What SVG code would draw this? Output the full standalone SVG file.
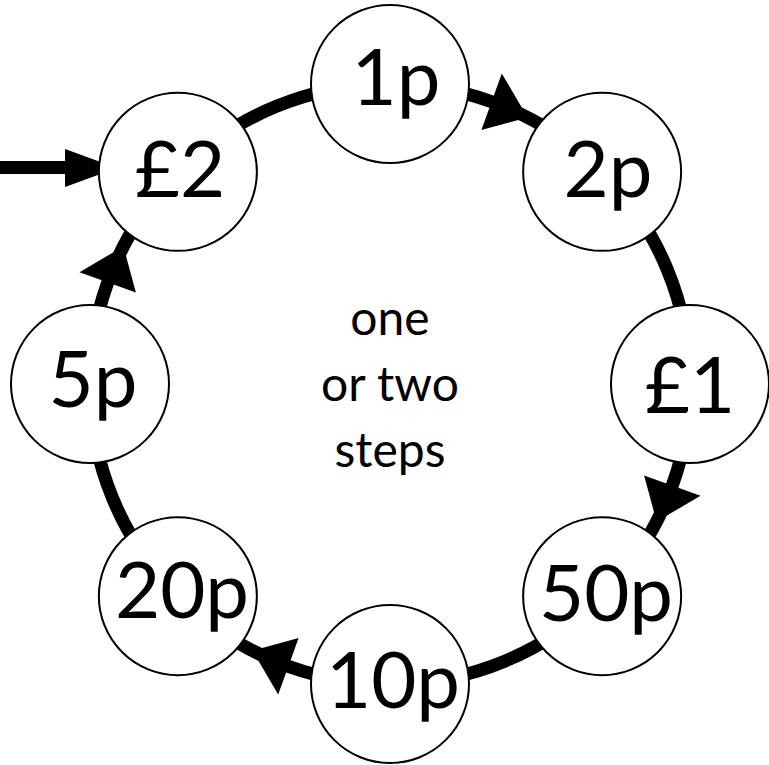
<svg xmlns="http://www.w3.org/2000/svg" xmlns:xlink="http://www.w3.org/1999/xlink" width="769" height="765" viewBox="0 0 769 765">
<style>
.ring{fill:none;stroke:#000;stroke-width:13}
.node circle{fill:#fff;stroke:#000;stroke-width:2}
.node text{font-family:Lato,"Liberation Sans",sans-serif;font-size:78px;fill:#000;text-anchor:middle}
.mid{font-family:Lato,"Liberation Sans",sans-serif;font-size:48px;fill:#000;text-anchor:middle}
</style>
<defs>
<polygon id="ah" points="656.6,521.6 700.5,495.8 644.1,475.4" fill="#000"/>
</defs>
<rect width="769" height="765" fill="#fff"/>
<g id="connectors">
<path class="ring" d="M390,84 A300,300 0 0 1 602.13,171.87"/>
<path class="ring" d="M602.13,171.87 A300,300 0 0 1 690,384"/>
<path class="ring" d="M690,384 A300,300 0 0 1 602.13,596.13"/>
<path class="ring" d="M602.13,596.13 A300,300 0 0 1 390,684"/>
<path class="ring" d="M390,684 A300,300 0 0 1 177.87,596.13"/>
<path class="ring" d="M177.87,596.13 A300,300 0 0 1 90,384"/>
<path class="ring" d="M90,384 A300,300 0 0 1 177.87,171.87"/>
<path class="ring" d="M177.87,171.87 A300,300 0 0 1 390,84"/>
<use xlink:href="#ah" href="#ah"/>
<use xlink:href="#ah" href="#ah" transform="rotate(-90 390 384)"/>
<use xlink:href="#ah" href="#ah" transform="rotate(90 390 384)"/>
<use xlink:href="#ah" href="#ah" transform="rotate(180 390 384)"/>
<line x1="0" y1="167.5" x2="70" y2="167.5" stroke="#000" stroke-width="13"/>
<polygon points="65,149 117,168 65,187" fill="#000"/>
</g>
<g id="n1p" class="node"><circle cx="390" cy="84" r="79"/><text x="396" y="105">1p</text></g>
<g id="n2p" class="node"><circle cx="602.13" cy="171.87" r="79"/><text x="608" y="197">2p</text></g>
<g id="nL1" class="node"><circle cx="690" cy="384" r="79"/><text x="690" y="413">£1</text></g>
<g id="n50p" class="node"><circle cx="602.13" cy="596.13" r="79"/><text x="606" y="621">50p</text></g>
<g id="n10p" class="node"><circle cx="390" cy="684" r="79"/><text x="393" y="708">10p</text></g>
<g id="n20p" class="node"><circle cx="177.87" cy="596.13" r="79"/><text x="182" y="618">20p</text></g>
<g id="n5p" class="node"><circle cx="90" cy="384" r="79"/><text x="93" y="407">5p</text></g>
<g id="nL2" class="node"><circle cx="177.87" cy="171.87" r="79"/><text x="180" y="197">£2</text></g>
<g id="label">
<text class="mid" x="390" y="335">one</text>
<text class="mid" x="390" y="401">or two</text>
<text class="mid" x="390" y="467">steps</text>
</g>
</svg>
